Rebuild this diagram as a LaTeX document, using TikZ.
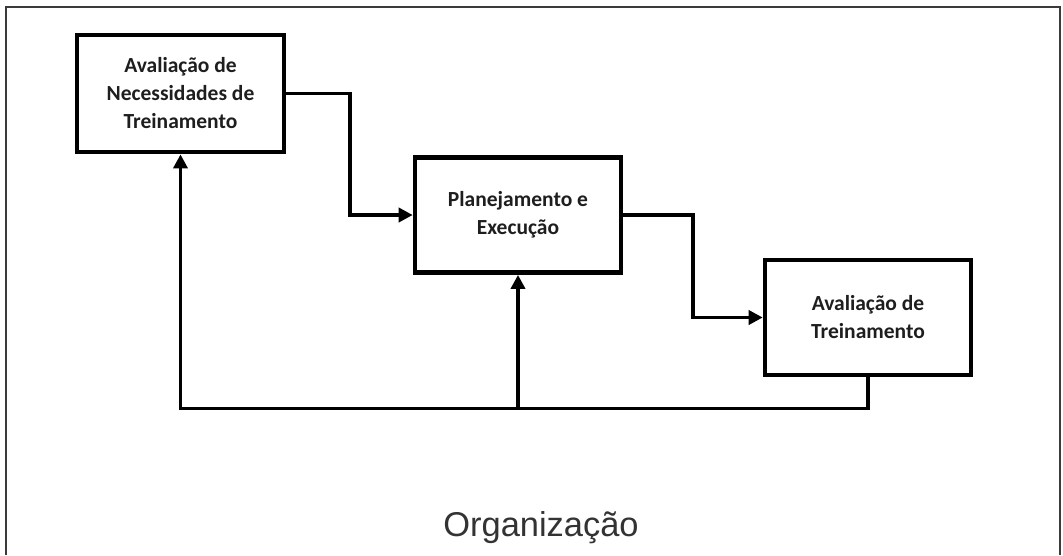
\documentclass[tikz,border=0pt]{standalone}
\usepackage{fontspec}
\setmainfont{Carlito}
\newfontfamily\labelfont{Liberation Sans}
\usetikzlibrary{positioning,arrows.meta,calc}
\definecolor{boxInk}{HTML}{1E1E1E}
\definecolor{frameGray}{HTML}{3A3A3A}
\definecolor{orgGray}{HTML}{333333}

\begin{document}
\begin{tikzpicture}[x=0.025cm, y=-0.025cm, >={Triangle[length=10pt, width=10pt]},
          step box/.style={draw=black, line width=3.2pt, fill=white, align=center, text=boxInk, font=\fontsize{15.3}{19.9}\selectfont\bfseries, minimum width=5.15cm, minimum height=2.88cm, inner sep=0pt},
          flow/.style={draw=black, line width=2.8pt, ->},
          back/.style={draw=black, line width=2.5pt}]
        \useasboundingbox (0,0) rectangle (1063,555);
        \draw[frameGray, line width=1.4pt] (6,555) -- (6,7) -- (1060,7) -- (1060,555);
        \node[step box, minimum width=5.18cm, minimum height=2.93cm] (anb) at (180.5,93.5) {Avaliação de\\Necessidades de\\Treinamento};
        \node[step box] (plan) at (518,215) {Planejamento e\\Execução};
        \node[step box] (avt) at (868,317.5) {Avaliação de\\Treinamento};
        \node[font=\labelfont\fontsize{24.5}{28}\selectfont, text=orgGray] (org) at (541,528) {Organização};
        \coordinate (fb) at ($(avt.south)+(0,31)$);
        \draw[flow] (anb.east) -| ($(anb.east)!.5!(plan.west)$) |- (plan.west);
        \draw[flow] (plan.east) -| ($(plan.east)!.5!(avt.west)$) |- (avt.west);
        \draw[back, ->] (avt.south) -- (fb) -| (anb.south);
        \draw[back, ->] (plan.south |- fb) -- (plan.south);
      \end{tikzpicture}
\end{document}
